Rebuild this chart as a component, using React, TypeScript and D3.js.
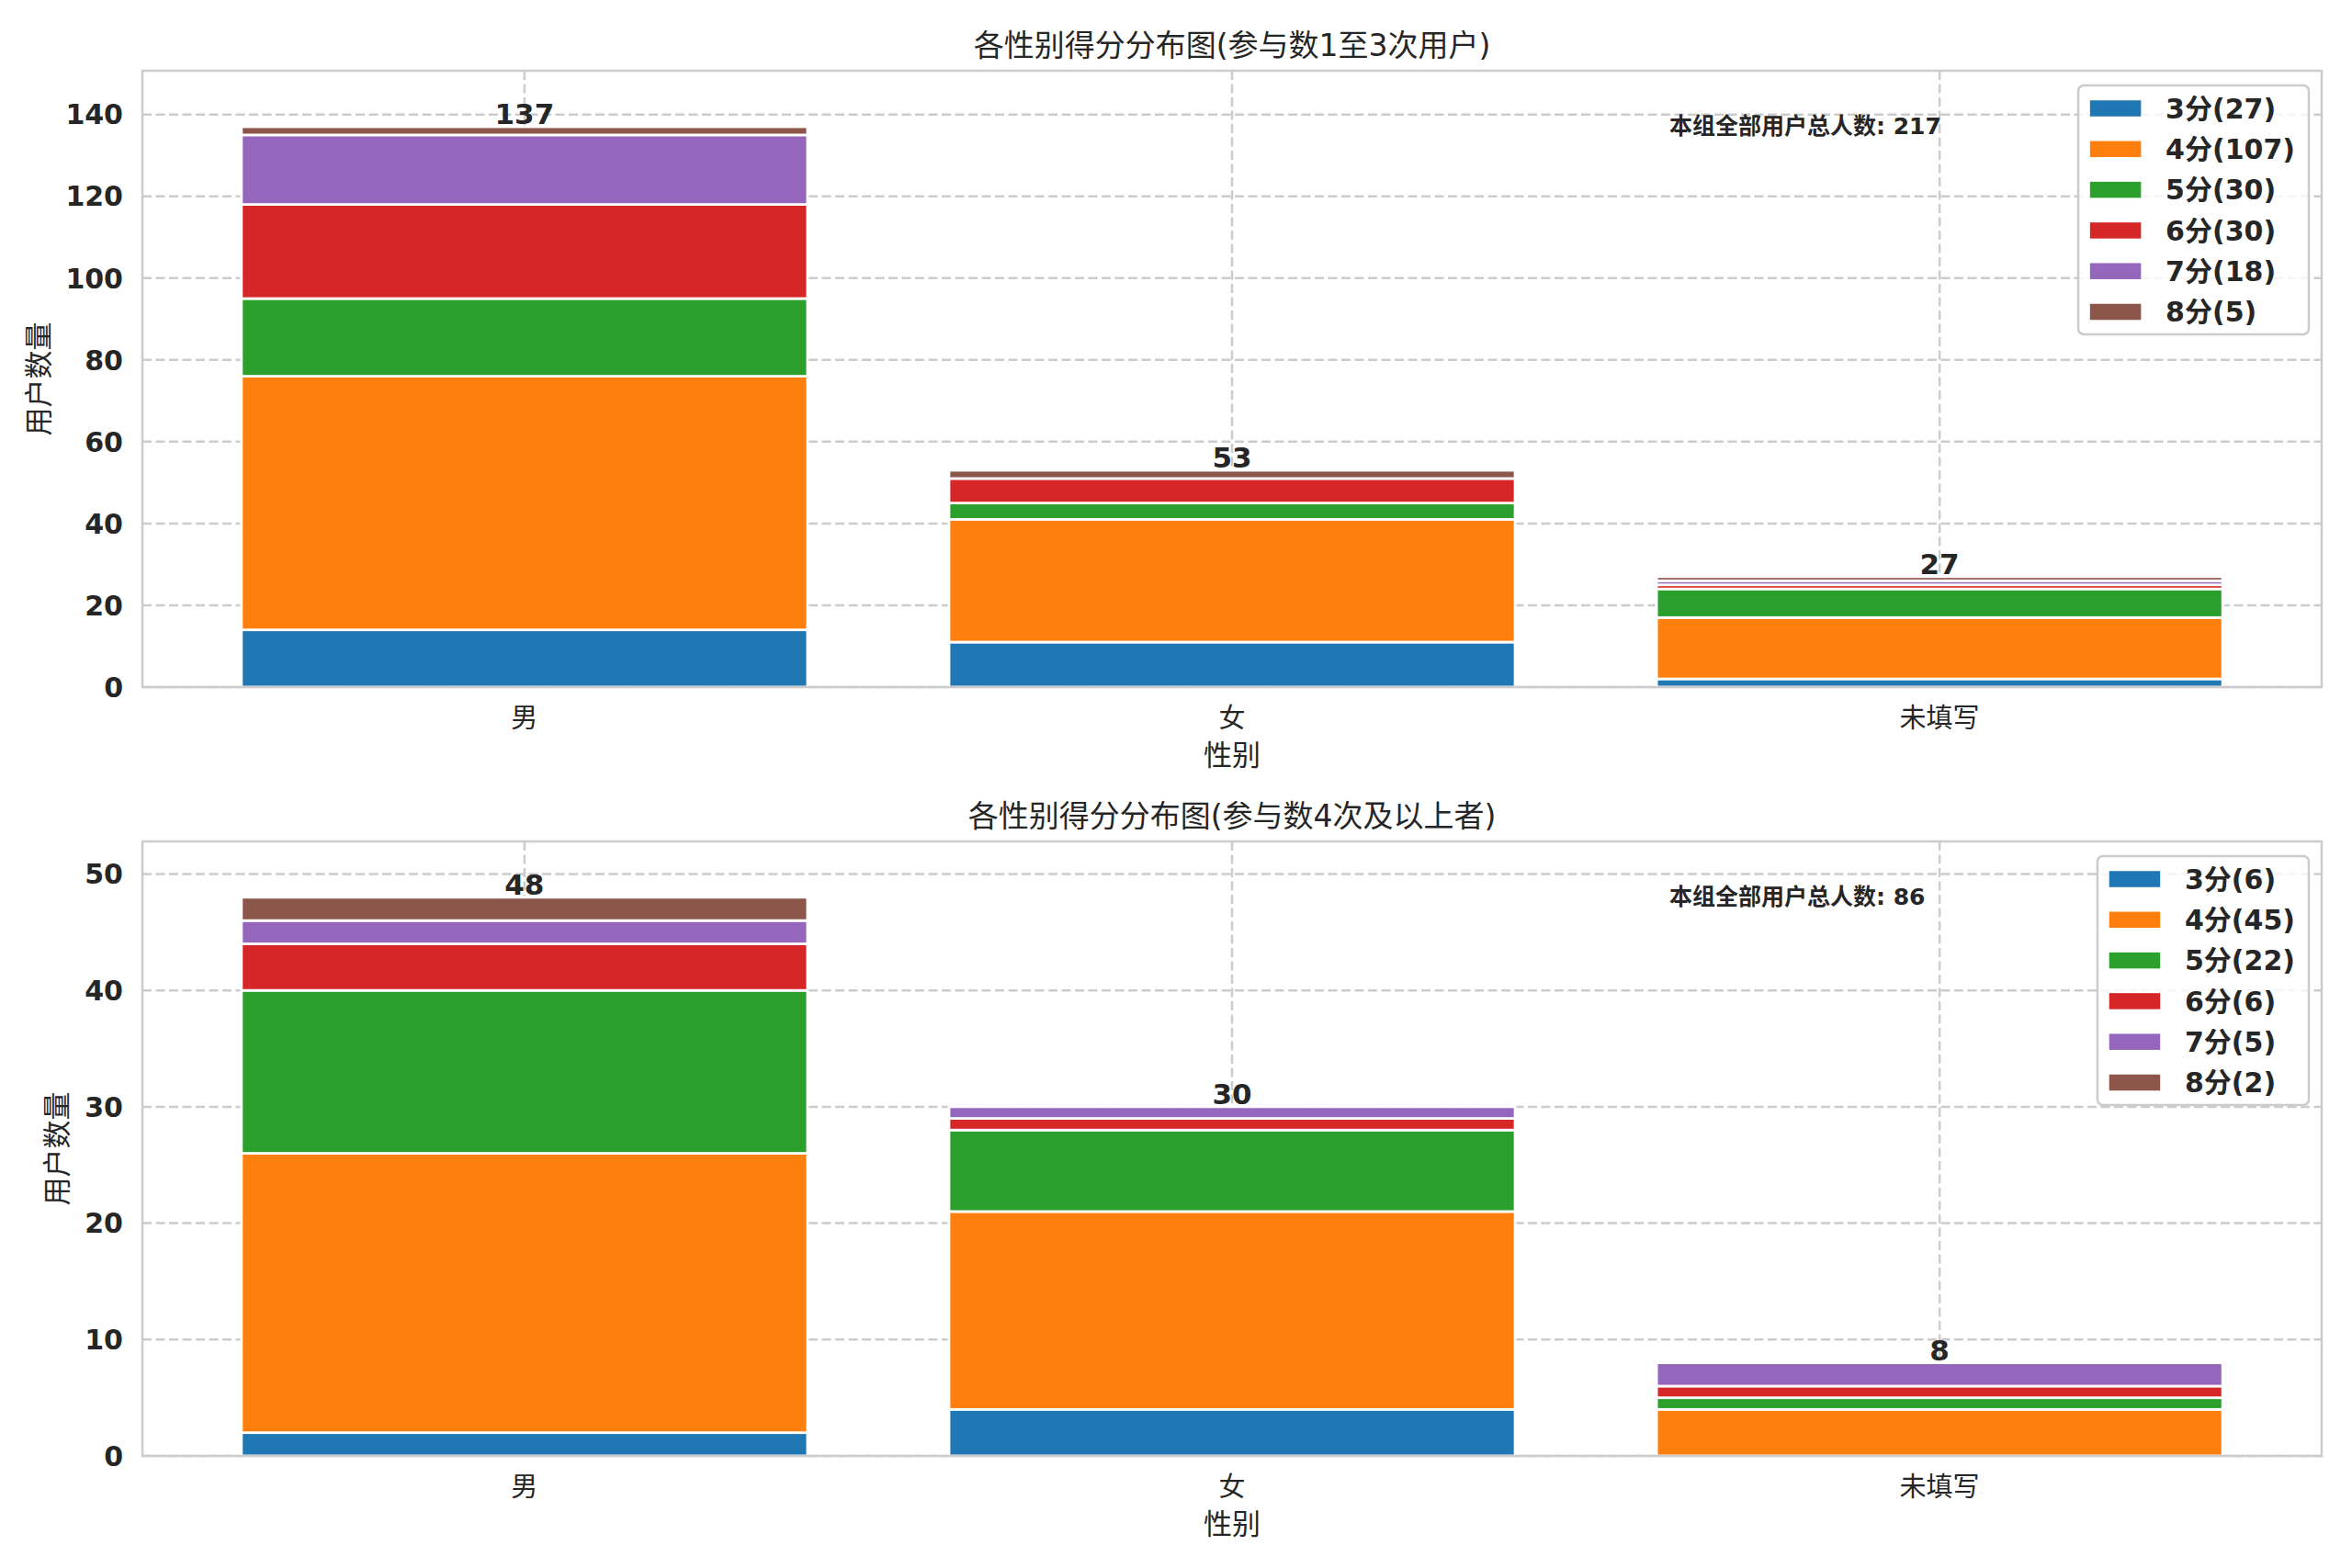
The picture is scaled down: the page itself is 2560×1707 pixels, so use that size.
import React, { useEffect, useRef } from "react";
import * as d3 from "d3";

const categories = ["男", "女", "未填写"];
const levels = ["3分", "4分", "5分", "6分", "7分", "8分"];
const colors = ["#1f77b4", "#ff7f0e", "#2ca02c", "#d62728", "#9467bd", "#8c564b"];

// one row per level, one column per category
const lowGroup = [
  [14, 11, 2],
  [62, 30, 15],
  [19, 4, 7],
  [23, 6, 1],
  [17, 0, 1],
  [2, 2, 1],
];
const highGroup = [
  [2, 4, 0],
  [24, 17, 4],
  [14, 7, 1],
  [4, 1, 1],
  [2, 1, 2],
  [2, 0, 0],
];

const lowTicks = [0, 20, 40, 60, 80, 100, 120, 140];
const highTicks = [0, 10, 20, 30, 40, 50];

const titles = [
  "各性别得分分布图(参与数1至3次用户)",
  "各性别得分分布图(参与数4次及以上者)",
];
const xLabel = "性别";
const yLabel = "用户数量";
const totalLabel = "本组全部用户总人数";

const W = 2560;
const H = 1707;
const LEFT = 155;
const RIGHT = 2527;
const TEXT = "#262626";
const GRID = "#cccccc";
const FONT = "'DejaVu Sans', 'Noto Sans CJK SC', sans-serif";

const measure = (txt: string, font: string) => {
  const ctx = document.createElement("canvas").getContext("2d");
  if (!ctx) return txt.length * 18;
  ctx.font = font;
  return ctx.measureText(txt).width;
};

type Panel = {
  title: string;
  data: number[][];
  ticks: number[];
  top: number;
  bottom: number;
};

const App: React.FC = () => {
  const chartRef = useRef<SVGSVGElement | null>(null);

  useEffect(() => {
    document.body.style.margin = "0";
    const svg = d3.select(chartRef.current);
    svg.selectAll("*").remove();
    svg.attr("width", W).attr("height", H).style("background", "white");

    const panels: Panel[] = [
      { title: titles[0], data: lowGroup, ticks: lowTicks, top: 77, bottom: 748 },
      { title: titles[1], data: highGroup, ticks: highTicks, top: 916, bottom: 1585 },
    ];

    panels.forEach((p) => {
      const g = svg.append("g").style("font-family", FONT);

      const rows = categories.map((cat, ci) => {
        const row: Record<string, number | string> = { cat };
        levels.forEach((lv, li) => (row[lv] = p.data[li][ci]));
        return row;
      });
      const totals = categories.map((_, ci) => d3.sum(p.data, (r) => r[ci]));
      const maxTotal = d3.max(totals) as number;

      const x = d3
        .scaleBand<string>()
        .domain(categories)
        .range([LEFT, RIGHT])
        .paddingInner(0.2)
        .paddingOuter(0.14);
      const y = d3
        .scaleLinear()
        .domain([0, maxTotal * 1.1])
        .range([p.bottom, p.top]);

      // grid
      g.append("g")
        .selectAll("line")
        .data(p.ticks)
        .enter()
        .append("line")
        .attr("x1", LEFT)
        .attr("x2", RIGHT)
        .attr("y1", (d) => y(d))
        .attr("y2", (d) => y(d))
        .attr("stroke", GRID)
        .attr("stroke-width", 2.5)
        .attr("stroke-dasharray", "10,4.5");
      g.append("g")
        .selectAll("line")
        .data(categories)
        .enter()
        .append("line")
        .attr("x1", (d) => (x(d) as number) + x.bandwidth() / 2)
        .attr("x2", (d) => (x(d) as number) + x.bandwidth() / 2)
        .attr("y1", p.top)
        .attr("y2", p.bottom)
        .attr("stroke", GRID)
        .attr("stroke-width", 2.5)
        .attr("stroke-dasharray", "10,4.5");

      // stacked bars
      const stacked = d3.stack<Record<string, number | string>>().keys(levels)(rows);
      stacked.forEach((layer, li) => {
        g.append("g")
          .selectAll("rect")
          .data(layer.filter((d) => d[1] - d[0] > 0))
          .enter()
          .append("rect")
          .attr("x", (d) => x(d.data.cat as string) as number)
          .attr("width", x.bandwidth())
          .attr("y", (d) => y(d[1]))
          .attr("height", (d) => y(d[0]) - y(d[1]))
          .attr("fill", colors[li])
          .attr("stroke", "white")
          .attr("stroke-width", 2.8);
      });

      // totals on top
      g.append("g")
        .selectAll("text")
        .data(totals)
        .enter()
        .append("text")
        .attr("x", (_, i) => (x(categories[i]) as number) + x.bandwidth() / 2)
        .attr("y", (d) => y(d) - 3)
        .attr("text-anchor", "middle")
        .attr("font-size", 31)
        .attr("font-weight", "bold")
        .attr("fill", TEXT)
        .text((d) => d);

      // spines
      g.append("rect")
        .attr("x", LEFT)
        .attr("y", p.top)
        .attr("width", RIGHT - LEFT)
        .attr("height", p.bottom - p.top)
        .attr("fill", "none")
        .attr("stroke", GRID)
        .attr("stroke-width", 2.5);

      // y ticks
      const yTickFont = `bold 30px ${FONT}`;
      g.append("g")
        .selectAll("text")
        .data(p.ticks)
        .enter()
        .append("text")
        .attr("x", LEFT - 21)
        .attr("y", (d) => y(d))
        .attr("dy", "0.36em")
        .attr("text-anchor", "end")
        .attr("font-size", 30)
        .attr("font-weight", "bold")
        .attr("fill", TEXT)
        .text((d) => d);
      const tickW = d3.max(p.ticks, (t) => measure(String(t), yTickFont)) as number;

      // x ticks
      g.append("g")
        .selectAll("text")
        .data(categories)
        .enter()
        .append("text")
        .attr("x", (d) => (x(d) as number) + x.bandwidth() / 2)
        .attr("y", p.bottom + 34)
        .attr("dy", "0.36em")
        .attr("text-anchor", "middle")
        .attr("font-size", 29)
        .attr("fill", TEXT)
        .text((d) => d);

      // axis labels
      g.append("text")
        .attr("x", (LEFT + RIGHT) / 2)
        .attr("y", p.bottom + 74)
        .attr("dy", "0.36em")
        .attr("text-anchor", "middle")
        .attr("font-size", 31)
        .attr("fill", TEXT)
        .text(xLabel);
      const ylx = LEFT - 21 - tickW - 30;
      const yly = (p.top + p.bottom) / 2;
      g.append("text")
        .attr("transform", `translate(${ylx},${yly}) rotate(-90)`)
        .attr("dy", "0.36em")
        .attr("text-anchor", "middle")
        .attr("font-size", 31)
        .attr("fill", TEXT)
        .text(yLabel);

      // title
      g.append("text")
        .attr("x", (LEFT + RIGHT) / 2)
        .attr("y", p.top - 28)
        .attr("dy", "0.36em")
        .attr("text-anchor", "middle")
        .attr("font-size", 33)
        .attr("fill", TEXT)
        .text(p.title);

      // group total note
      g.append("text")
        .attr("x", 1817)
        .attr("y", p.top + 69)
        .attr("font-size", 25)
        .attr("font-weight", "bold")
        .attr("fill", TEXT)
        .text(`${totalLabel}: ${d3.sum(totals)}`);

      // legend
      const legendFont = `bold 30px ${FONT}`;
      const labels = levels.map((lv, li) => `${lv}(${d3.sum(p.data[li])})`);
      const textW = d3.max(labels, (l) => measure(l, legendFont)) as number;
      const frameW = 12 + 57 + 26 + textW + 15;
      const frameX = RIGHT - 14 - frameW;
      const frameY = p.top + 16;
      const rowH = 44.3;
      const lg = g.append("g");
      lg.append("rect")
        .attr("x", frameX)
        .attr("y", frameY)
        .attr("width", frameW)
        .attr("height", 25 + 5 * rowH + 24.5)
        .attr("rx", 6)
        .attr("fill", "white")
        .attr("fill-opacity", 0.8)
        .attr("stroke", GRID)
        .attr("stroke-width", 2.5);
      labels.forEach((l, i) => {
        const cy = frameY + 25 + i * rowH;
        lg.append("rect")
          .attr("x", frameX + 12)
          .attr("y", cy - 9.5)
          .attr("width", 57)
          .attr("height", 19)
          .attr("fill", colors[i])
          .attr("stroke", "white")
          .attr("stroke-width", 1.5);
        lg.append("text")
          .attr("x", frameX + 12 + 57 + 26)
          .attr("y", cy)
          .attr("dy", "0.36em")
          .attr("font-size", 30)
          .attr("font-weight", "bold")
          .attr("fill", TEXT)
          .text(l);
      });
    });
  }, []);

  return (
    <div style={{ width: W, height: H }}>
      <svg ref={chartRef} style={{ display: "block" }} />
    </div>
  );
};

export default App;
